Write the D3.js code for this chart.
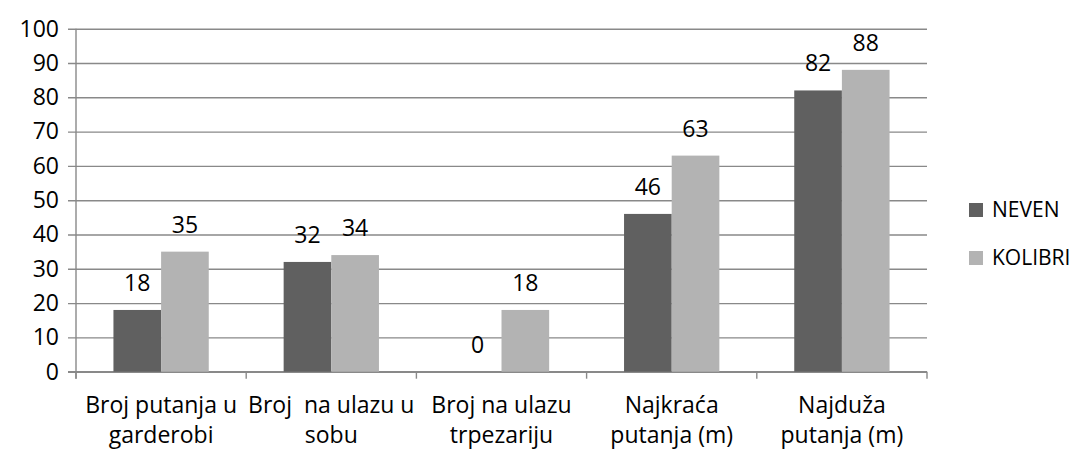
<!DOCTYPE html>
<html>
<head>
<meta charset="utf-8">
<script src="https://cdn.jsdelivr.net/npm/d3@7"></script>
<style>
  html, body { margin: 0; padding: 0; background: #ffffff; }
  svg { display: block; font-family: "Open Sans", "DejaVu Sans", sans-serif; }
</style>
</head>
<body>
<svg id="chart" width="1075" height="451"></svg>
<script>
// Categories (each label split into its two display lines)
const categories = [
  "Broj putanja u garderobi",
  "Broj  na ulazu u sobu",
  "Broj na ulazu trpezariju",
  "Najkraća putanja (m)",
  "Najduža putanja (m)"
];
const categoryLines = [
  ["Broj putanja u", "garderobi"],
  ["Broj\u00a0\u00a0na ulazu u", "sobu"],
  ["Broj na ulazu", "trpezariju"],
  ["Najkraća", "putanja (m)"],
  ["Najduža", "putanja (m)"]
];
const seriesNames = ["NEVEN", "KOLIBRI"];
const neven = [18, 32, 0, 46, 82];
const kolibri = [35, 34, 18, 63, 88];
const yTicks = [0, 10, 20, 30, 40, 50, 60, 70, 80, 90, 100];
const seriesColors = ["#606060", "#b3b3b3"];

const rows = categories.map((c, i) => ({ category: c, values: [neven[i], kolibri[i]] }));

const svg = d3.select("#chart");
const plot = { left: 76, right: 927, top: 28.7, bottom: 371.7 };

const x0 = d3.scaleBand().domain(categories).range([plot.left, plot.right]).padding(0);
const bw = x0.bandwidth();
const x1 = d3.scaleBand().domain(seriesNames).range([bw * 0.22, bw * 0.78]).padding(0);
const y = d3.scaleLinear().domain([0, 100]).range([plot.bottom, plot.top]);

const gridColor = "#898989";

// Horizontal gridlines with short ticks to the left of the value axis
const yAxis = d3.axisLeft(y)
  .tickValues(yTicks)
  .tickSize(-(plot.right - plot.left))
  .tickSizeOuter(0)
  .tickPadding(17)
  .tickFormat(d3.format("d"));

const gy = svg.append("g")
  .attr("transform", `translate(${plot.left},0)`)
  .call(yAxis);
gy.select(".domain").remove();
gy.selectAll(".tick line")
  .attr("x1", -8)
  .attr("stroke", gridColor)
  .attr("stroke-width", 1.4);
gy.selectAll(".tick text")
  .attr("font-size", 23)
  .attr("fill", "#000")
  .attr("font-family", "Open Sans, sans-serif");

// Value axis line
svg.append("line")
  .attr("x1", plot.left).attr("x2", plot.left)
  .attr("y1", y(100)).attr("y2", plot.bottom + 7)
  .attr("stroke", gridColor).attr("stroke-width", 1.4);

// Category axis: baseline plus boundary ticks
svg.append("line")
  .attr("x1", plot.left - 8).attr("x2", plot.right)
  .attr("y1", y(0)).attr("y2", y(0))
  .attr("stroke", gridColor).attr("stroke-width", 1.4);

const boundaries = categories.map(c => x0(c)).concat([x0(categories[categories.length - 1]) + bw]);
svg.append("g").selectAll("line")
  .data(boundaries)
  .join("line")
  .attr("x1", d => d).attr("x2", d => d)
  .attr("y1", y(0)).attr("y2", y(0) + 7)
  .attr("stroke", gridColor).attr("stroke-width", 1.4);

// Bars
const groups = svg.append("g").selectAll("g")
  .data(rows)
  .join("g")
  .attr("transform", d => `translate(${x0(d.category)},0)`);

groups.selectAll("rect")
  .data(d => d.values.map((v, i) => ({ series: seriesNames[i], value: v, idx: i })))
  .join("rect")
  .attr("x", d => x1(d.series))
  .attr("width", x1.bandwidth())
  .attr("y", d => y(d.value))
  .attr("height", d => y(0) - y(d.value))
  .attr("fill", d => seriesColors[d.idx]);

// Value labels above each bar
groups.selectAll("text.val")
  .data(d => d.values.map((v, i) => ({ series: seriesNames[i], value: v })))
  .join("text")
  .attr("class", "val")
  .attr("x", d => x1(d.series) + x1.bandwidth() / 2)
  .attr("y", d => y(d.value) - 19)
  .attr("text-anchor", "middle")
  .attr("font-size", 23)
  .attr("fill", "#000")
  .text(d => d.value);

// Category labels (two lines, centered under each group)
const catG = svg.append("g").selectAll("text")
  .data(categories)
  .join("text")
  .attr("text-anchor", "middle")
  .attr("font-size", 23)
  .attr("fill", "#000");
catG.each(function(d, i) {
  const t = d3.select(this);
  categoryLines[i].forEach((line, k) => {
    t.append("tspan")
      .attr("x", x0(d) + bw / 2)
      .attr("y", 413 + k * 30)
      .text(line);
  });
});

// Legend
const legend = svg.append("g").attr("transform", "translate(969,0)");
const legendY = [210, 258];
seriesNames.forEach((name, i) => {
  legend.append("rect")
    .attr("x", 0).attr("y", legendY[i] - 7)
    .attr("width", 14).attr("height", 14)
    .attr("fill", seriesColors[i]);
  legend.append("text")
    .attr("x", 23).attr("y", legendY[i])
    .attr("dy", "0.35em")
    .attr("font-size", 21)
    .attr("fill", "#000")
    .text(name);
});
</script>
</body>
</html>
